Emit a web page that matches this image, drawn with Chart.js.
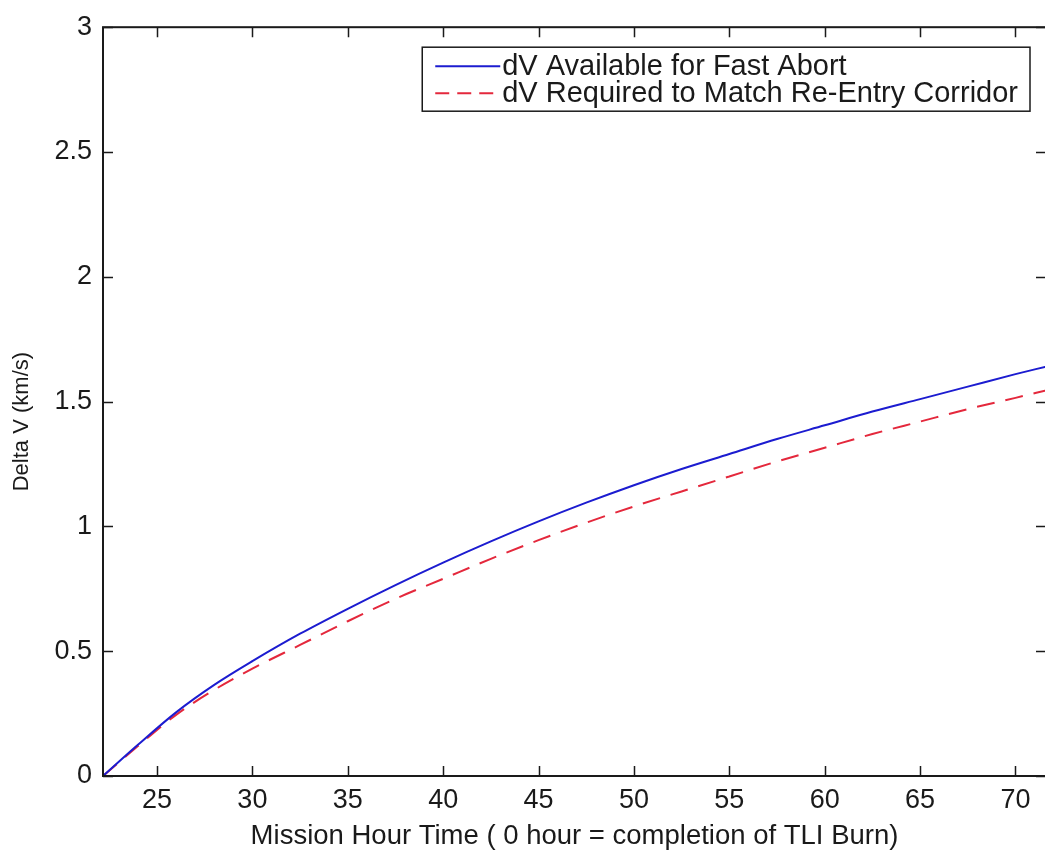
<!DOCTYPE html>
<html>
<head>
<meta charset="utf-8">
<script src="https://cdn.jsdelivr.net/npm/chart.js@4.4.1/dist/chart.umd.min.js"></script>
<style>
  html, body { margin: 0; padding: 0; background: #fff; overflow: hidden; }
  #wrap { width: 1048px; height: 854px; }
</style>
</head>
<body>
<div id="wrap"><canvas id="dvChart" width="1048" height="854"></canvas></div>
<script>
// Mission hour (0 = end of TLI burn) and the two delta-V curves, km/s
const hours       = [22.17, 24, 26, 28, 30, 32.5, 35, 37.5, 40, 42.5, 45, 47.5, 50, 52.5, 55, 57.5, 60, 62.5, 65, 67.5, 70, 71.6];
const dvAvailable = [0, 0.125, 0.255, 0.365, 0.46, 0.57, 0.67, 0.765, 0.855, 0.94, 1.02, 1.095, 1.165, 1.23, 1.29, 1.35, 1.405, 1.46, 1.51, 1.56, 1.61, 1.64];
const dvRequired  = [0, 0.12, 0.245, 0.345, 0.43, 0.525, 0.62, 0.71, 0.79, 0.87, 0.945, 1.015, 1.08, 1.14, 1.20, 1.26, 1.315, 1.37, 1.42, 1.47, 1.515, 1.545];

const seriesLabels = ['dV Available for Fast Abort', 'dV Required to Match Re-Entry Corridor'];
const yTitle = 'Delta V (km/s)';

const xTicks      = [25, 30, 35, 40, 45, 50, 55, 60, 65, 70];
const yTicks      = [0, 0.5, 1, 1.5, 2, 2.5, 3];
const yTickLabels = ['0', '0.5', '1', '1.5', '2', '2.5', '3'];

const FONT = "'Liberation Sans', Arial, sans-serif";
const INK  = '#1a1a1a';
const BLUE = '#1c1cd0';
const RED  = '#e4283c';
const RED_DASH = [18, 11];

const toPoints = ys => hours.map((h, i) => ({ x: h, y: ys[i] }));

// MATLAB-style frame: full box, inward ticks on all four sides,
// rotated y label and a boxed legend in the top-right corner
const frameAndLegend = {
  id: 'frameAndLegend',
  afterDatasetsDraw(chart) {
    const { ctx, chartArea: a, scales: { x, y } } = chart;
    const tick = 10;

    ctx.save();
    ctx.strokeStyle = INK;
    ctx.lineWidth = 2;
    ctx.strokeRect(a.left, a.top, a.right - a.left, a.bottom - a.top);

    ctx.beginPath();
    xTicks.forEach(v => {
      const px = Math.round(x.getPixelForValue(v)) + 0.5;
      ctx.moveTo(px, a.bottom); ctx.lineTo(px, a.bottom - tick);
      ctx.moveTo(px, a.top);    ctx.lineTo(px, a.top + tick);
    });
    yTicks.forEach(v => {
      const py = Math.round(y.getPixelForValue(v)) + 0.5;
      ctx.moveTo(a.left, py);  ctx.lineTo(a.left + tick, py);
      ctx.moveTo(a.right, py); ctx.lineTo(a.right - tick, py);
    });
    ctx.lineWidth = 1.5;
    ctx.stroke();

    // y axis label, sits a little below the axes midpoint
    ctx.save();
    ctx.translate(22, (a.top + a.bottom) / 2 + 20);
    ctx.rotate(-Math.PI / 2);
    ctx.font = '22px ' + FONT;
    ctx.fillStyle = INK;
    ctx.textAlign = 'center';
    ctx.textBaseline = 'middle';
    ctx.fillText(yTitle, 0, 0);
    ctx.restore();

    // legend
    ctx.font = '29px ' + FONT;
    const textW = Math.max(...seriesLabels.map(s => ctx.measureText(s).width));
    const sample = 65, padL = 13, gap = 2, padR = 12, rowH = 27;
    const boxW = padL + sample + gap + textW + padR;
    const boxH = 64;
    const bx = a.right - 16 - boxW;
    const by = a.top + 20;

    ctx.fillStyle = '#fff';
    ctx.fillRect(bx, by, boxW, boxH);
    ctx.lineWidth = 1.5;
    ctx.strokeStyle = INK;
    ctx.strokeRect(bx, by, boxW, boxH);

    const styles = [
      { color: BLUE, dash: [] },
      { color: RED,  dash: [14, 8] },
    ];
    seriesLabels.forEach((label, i) => {
      const cy = by + 19 + i * rowH;
      ctx.beginPath();
      ctx.setLineDash(styles[i].dash);
      ctx.strokeStyle = styles[i].color;
      ctx.lineWidth = 2;
      ctx.moveTo(bx + padL, cy);
      ctx.lineTo(bx + padL + sample, cy);
      ctx.stroke();
      ctx.setLineDash([]);
      ctx.fillStyle = INK;
      ctx.textBaseline = 'middle';
      ctx.textAlign = 'left';
      ctx.fillText(label, bx + padL + sample + gap, cy + 1);
    });
    ctx.restore();
  },
};

new Chart(document.getElementById('dvChart'), {
  type: 'line',
  data: {
    datasets: [
      {
        label: seriesLabels[0],
        data: toPoints(dvAvailable),
        borderColor: BLUE,
        borderWidth: 2,
        pointRadius: 0,
        cubicInterpolationMode: 'monotone',
        fill: false,
      },
      {
        label: seriesLabels[1],
        data: toPoints(dvRequired),
        borderColor: RED,
        borderWidth: 2,
        borderDash: RED_DASH,
        pointRadius: 0,
        cubicInterpolationMode: 'monotone',
        fill: false,
      },
    ],
  },
  options: {
    responsive: false,
    animation: false,
    events: [],
    layout: { padding: { left: 0, top: 23, right: 2, bottom: 0 } },
    plugins: {
      legend: { display: false },
      tooltip: { enabled: false },
    },
    scales: {
      x: {
        type: 'linear',
        min: 22.17,
        max: 71.6,
        grid: { display: false, drawTicks: false },
        border: { display: false },
        afterBuildTicks: s => { s.ticks = xTicks.map(v => ({ value: v })); },
        afterFit: s => { s.height = 78; },
        ticks: {
          color: INK,
          padding: 8,
          font: { family: FONT, size: 27 },
          callback: v => String(v),
        },
        title: {
          display: true,
          text: 'Mission Hour Time ( 0 hour = completion of TLI Burn)',
          color: INK,
          font: { family: FONT, size: 27.5 },
          padding: { top: 0, bottom: 1 },
        },
      },
      y: {
        min: 0,
        max: 3,
        grid: { display: false, drawTicks: false },
        border: { display: false },
        afterBuildTicks: s => { s.ticks = yTicks.map(v => ({ value: v })); },
        afterFit: s => { s.width = 103; },
        ticks: {
          color: INK,
          padding: 11,
          font: { family: FONT, size: 27 },
          callback: (v, i) => yTickLabels[i],
        },
      },
    },
  },
  plugins: [frameAndLegend],
});
</script>
</body>
</html>
